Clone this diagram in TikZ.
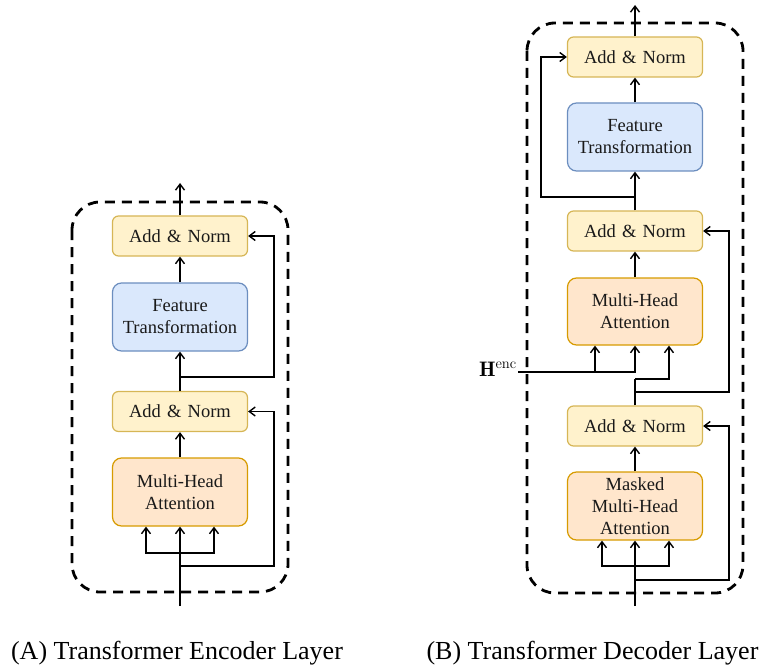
\documentclass[tikz,border=0pt]{standalone}
\usepackage{fontspec}
\newfontfamily\boxfont{Liberation Serif}
\usetikzlibrary{arrows.meta,calc}
\definecolor{anfill}{HTML}{FFF2CC}\definecolor{anline}{HTML}{D6B656}
\definecolor{ftfill}{HTML}{DAE8FC}\definecolor{ftline}{HTML}{6C8EBF}
\definecolor{mhfill}{HTML}{FFE6CC}\definecolor{mhline}{HTML}{D79B00}
\begin{document}
\begin{tikzpicture}[x=1pt,y=-1pt,
  base/.style={rectangle,line width=1.2pt,minimum width=135pt,text width=130pt,align=center,inner sep=0pt,
    font=\boxfont\fontsize{18.5pt}{22pt}\selectfont,text=black!90},
  anbox/.style={base,fill=anfill,draw=anline,rounded corners=6pt,minimum height=40pt},
  ftbox/.style={base,fill=ftfill,draw=ftline,rounded corners=9pt,minimum height=68pt},
  mhbox/.style={base,fill=mhfill,draw=mhline,rounded corners=9pt,minimum height=68pt},
  arr/.style={line width=1.4pt,-{Straight Barb[length=6pt,width=9pt,line width=1.4pt]}},
  ln/.style={line width=1.4pt},
  container/.style={line width=2.8pt,dash pattern=on 10pt off 7pt,rounded corners=28pt},
  captext/.style={font=\boxfont\fontsize{26pt}{30pt}\selectfont,anchor=base,inner sep=0pt}]
\useasboundingbox (0,0) rectangle (760,671);
% ---------- Encoder ----------
\draw[container] (72,202) rectangle (288,592);
\node[anbox] (an2) at (180,236) {Add \& Norm};
\node[ftbox] (ft)  at (180,317) {Feature\\Transformation};
\node[anbox] (an1) at (180,411.5) {Add \& Norm};
\node[mhbox] (mha) at (180,492) {Multi-Head\\Attention};
\coordinate (ein) at (180,606);
\coordinate (eout) at (180,183);
\coordinate (eb) at (180,553);
\coordinate (er1) at (180,566);
\coordinate (er2) at (180,377);
\draw[arr] (ein) -- (mha.south);
\draw[arr] (eb) -| ([xshift=-34pt]mha.south);
\draw[arr] (eb) -| ([xshift=34pt]mha.south);
\draw[arr] (mha) -- (an1);
\draw[arr] (an1) -- (ft);
\draw[arr] (ft) -- (an2);
\draw[arr] (an2) -- (eout);
\draw[arr] (er1) -- (274,566) |- (an1.east);
\draw[arr] (er2) -- (274,377) |- (an2.east);
\node[captext] (capA) at (177,659) {(A) Transformer Encoder Layer};
% ---------- Decoder ----------
\draw[container] (527,23) rectangle (743,593);
\node[anbox] (dan3) at (635,57) {Add \& Norm};
\node[ftbox] (dft)  at (635,137) {Feature\\Transformation};
\node[anbox] (dan2) at (635,231) {Add \& Norm};
\node[mhbox,minimum height=67pt] (dmha) at (635,311.5) {Multi-Head\\Attention};
\node[anbox] (dan1) at (635,426) {Add \& Norm};
\node[mhbox] (dmm) at (635,506) {Masked\\Multi-Head\\Attention};
\coordinate (din) at (635,606);
\coordinate (dout) at (635,5);
\coordinate (db) at (635,566);
\coordinate (dr1) at (635,580);
\coordinate (dr2) at (635,392);
\coordinate (dr3) at (635,197);
\coordinate (dq) at (635,379);
\coordinate (hs) at (518,372);
\coordinate (hj) at (595,372);
\draw[arr] (din) -- (dmm.south);
\draw[arr] (db) -| ([xshift=-33pt]dmm.south);
\draw[arr] (db) -| ([xshift=34pt]dmm.south);
\draw[arr] (dr1) -- (729,580) |- (dan1.east);
\draw[arr] (dmm) -- (dan1);
\draw[ln] (dan1.north) -- (dq);
\draw[arr] (dq) -| ([xshift=34pt]dmha.south);
\draw[arr] (dr2) -- (729,392) |- (dan2.east);
\node[anchor=east,inner sep=0pt,font=\fontsize{21pt}{24pt}\selectfont] (henc) at (517,369) {$\mathbf{H}^{\mathrm{enc}}$};
\draw[ln] (hs) -- (hj);
\draw[arr] (hj) -- (hj |- dmha.south);
\draw[arr] (hj) -| (dmha.south);
\draw[arr] (dmha) -- (dan2);
\draw[arr] (dan2) -- (dft);
\draw[arr] (dr3) -- (541,197) |- (dan3.west);
\draw[arr] (dft) -- (dan3);
\draw[arr] (dan3) -- (dout);
\node[captext] (capB) at (592.5,659) {(B) Transformer Decoder Layer};
\end{tikzpicture}
\end{document}
